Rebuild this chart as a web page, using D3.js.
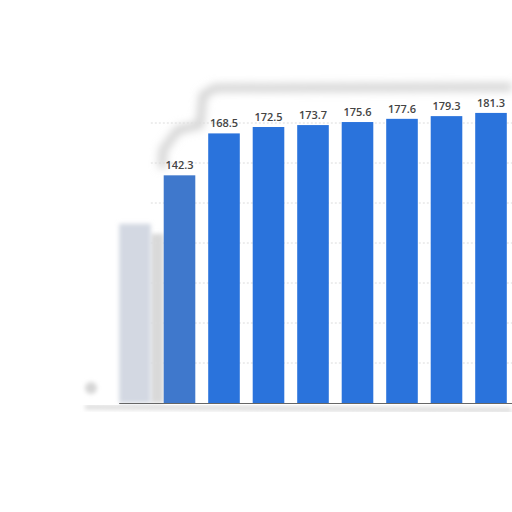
<!DOCTYPE html>
<html>
<head>
<meta charset="utf-8">
<script src="https://cdn.jsdelivr.net/npm/d3@7"></script>
<style>
  html, body { margin: 0; padding: 0; background: #fff; }
  svg { display: block; font-family: "Open Sans", "Liberation Sans", sans-serif; }
</style>
</head>
<body>
<svg id="chart"></svg>
<script>
const width = 512;
const height = 512;

// categories (axis labels are not legible in the picture)
const categories = ['c1', 'c2', 'c3', 'c4', 'c5', 'c6', 'c7', 'c8', 'c9'];
const values = [112, 142.3, 168.5, 172.5, 173.7, 175.6, 177.6, 179.3, 181.3];
const labels = ['', '142.3', '168.5', '172.5', '173.7', '175.6', '177.6', '179.3', '181.3'];
const gridTicks = [25, 50, 75, 100, 125, 150, 175];

const svg = d3.select('#chart').attr('width', width).attr('height', height);

const defs = svg.append('defs');
defs.append('filter').attr('id', 'blur4').attr('x', '-50%').attr('y', '-50%').attr('width', '200%').attr('height', '200%')
  .append('feGaussianBlur').attr('stdDeviation', 4);
defs.append('filter').attr('id', 'blur2').attr('x', '-50%').attr('y', '-50%').attr('width', '200%').attr('height', '200%')
  .append('feGaussianBlur').attr('stdDeviation', 2);

const x = d3.scaleBand().domain(categories).range([112.75, 513.25]).paddingInner(0.29).paddingOuter(0.145);
const y = d3.scaleLinear().domain([0, 175]).range([403, 123]);

// smudged panel border (blurred remains of the original frame)
svg.append('path')
  .attr('d', 'M512,87 L215,88 L203,95 L200,125 L178,130 L163,150 L162,168')
  .attr('fill', 'none').attr('stroke', '#cccccc').attr('stroke-width', 7)
  .attr('filter', 'url(#blur4)');
svg.append('path')
  .attr('d', 'M85,407 L512,410')
  .attr('fill', 'none').attr('stroke', '#dddddd').attr('stroke-width', 5)
  .attr('filter', 'url(#blur2)');
svg.append('circle').attr('cx', 91).attr('cy', 388).attr('r', 6)
  .attr('fill', '#d6d6d6').attr('filter', 'url(#blur2)');

// grey strip between the first two bars
svg.append('rect')
  .attr('x', x(categories[0]) + x.bandwidth()).attr('y', y(values[0]) + 10)
  .attr('width', x(categories[1]) - x(categories[0]) - x.bandwidth())
  .attr('height', y(0) - y(values[0]) - 10)
  .attr('fill', '#d9d9d9').attr('filter', 'url(#blur2)');

// grid
svg.append('g').selectAll('line').data(gridTicks).join('line')
  .attr('x1', x(categories[0]) + x.bandwidth()).attr('x2', 512)
  .attr('y1', d => y(d)).attr('y2', d => y(d))
  .attr('stroke', '#dcdcdc').attr('stroke-dasharray', '2,2');

// bars
svg.append('g').selectAll('rect').data(values).join('rect')
  .attr('x', (d, i) => x(categories[i]))
  .attr('y', d => y(d))
  .attr('width', x.bandwidth())
  .attr('height', d => y(0) - y(d))
  .attr('fill', (d, i) => i === 0 ? '#d3d8e2' : i === 1 ? '#3f78cc' : '#2a73dc')
  .attr('filter', (d, i) => i === 0 ? 'url(#blur2)' : null);

// baseline
svg.append('line')
  .attr('x1', x(categories[0])).attr('x2', 512)
  .attr('y1', y(0) + 0.5).attr('y2', y(0) + 0.5)
  .attr('stroke', '#666').attr('stroke-width', 1);

// value labels
svg.append('g').selectAll('text').data(values).join('text')
  .attr('x', (d, i) => x(categories[i]) + x.bandwidth() / 2)
  .attr('y', d => y(d) - 6)
  .attr('text-anchor', 'middle')
  .attr('font-size', 11).attr('font-weight', 600)
  .attr('fill', '#444')
  .text((d, i) => labels[i]);
</script>
</body>
</html>
